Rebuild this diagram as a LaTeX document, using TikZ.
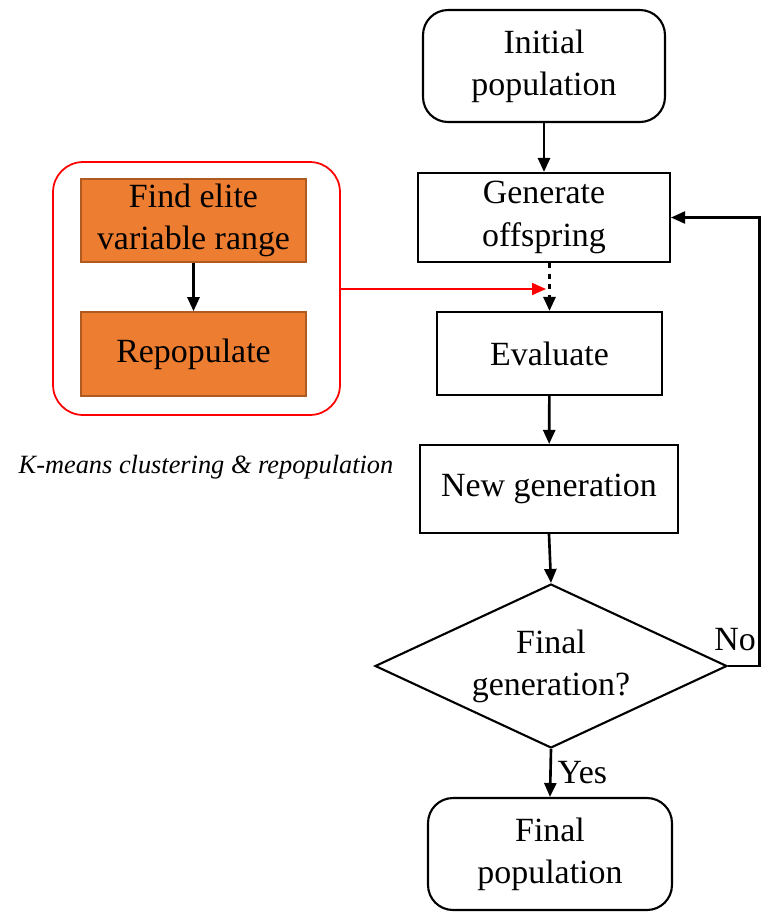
\documentclass[tikz,border=0pt]{standalone}
\usepackage{fontspec}
\setmainfont{Liberation Serif}
\usetikzlibrary{shapes.geometric,arrows.meta}

\definecolor{elite}{HTML}{ED7D31}
\definecolor{elitedraw}{HTML}{AE5A21}

\tikzset{
  box/.style={draw=black,line width=1.2pt,align=center,inner sep=0pt,
    font=\fontsize{19.3}{24}\selectfont},
  roundbox/.style={box,rounded corners=0.5cm},
  orangebox/.style={box,fill=elite,draw=elitedraw,line width=0.9pt},
  arr/.style={line width=1.5pt,-{Triangle[length=0.28cm,width=0.24cm]}}
}

\begin{document}
\begin{tikzpicture}[x=0.02cm,y=-0.02cm]
\useasboundingbox (0,0) rectangle (761,914);
% main loop
\node[roundbox,minimum width=4.84cm,minimum height=2.24cm] (init) at (544,66) {Initial\\population};
\node[box,minimum width=5.04cm,minimum height=1.78cm] (gen) at (544,217.5) {Generate\\offspring};
\node[box,minimum width=4.5cm,minimum height=1.66cm] (eval) at (549.5,353.5) {Evaluate};
\node[box,minimum width=5.16cm,minimum height=1.76cm] (newgen) at (549,489) {New generation};
\node[draw,line width=1.2pt,diamond,inner sep=0pt,minimum width=7.04cm,minimum height=3.28cm,
  label={[align=center,font=\fontsize{19.3}{24}\selectfont]center:Final\\generation?}] (check) at (551,666) {};
\node[roundbox,minimum width=4.88cm,minimum height=2.24cm] (final) at (550,854) {Final\\population};
% k-means block
\node[draw=red,line width=1pt,rounded corners=0.6cm,minimum width=5.74cm,minimum height=5.06cm] (kmeans) at (196.5,288.5) {};
\node[orangebox,minimum width=4.5cm,minimum height=1.66cm] (elite) at (193.5,220.5) {Find elite\\variable range};
\node[orangebox,minimum width=4.5cm,minimum height=1.68cm] (repop) at (193.5,354) {Repopulate};
\node[font=\fontsize{15}{18}\selectfont\itshape] (caption) at (206,467) {K-means clustering \& repopulation};

\coordinate (redend) at (546,289);
\coordinate (loop) at (759.5,666);

\draw[arr] (init) -- (gen);
\draw[arr,dashed] (eval.north |- gen.south) -- (eval.north);
\draw[arr,red,line width=1pt] (kmeans.east |- redend) -- (redend);
\draw[arr] (eval) -- (newgen);
\draw[arr] (newgen.south) -- (check.north);
\draw[arr] (check.south) -- node[right,font=\fontsize{19.3}{24}\selectfont] {Yes} (final.north);
\draw[arr,line width=1.2pt] (check.east) -- (loop) |- (gen.east);
\node[font=\fontsize{19.3}{24}\selectfont] (no) at (735,640) {No};
\draw[arr] (elite) -- (repop);
\end{tikzpicture}
\end{document}
